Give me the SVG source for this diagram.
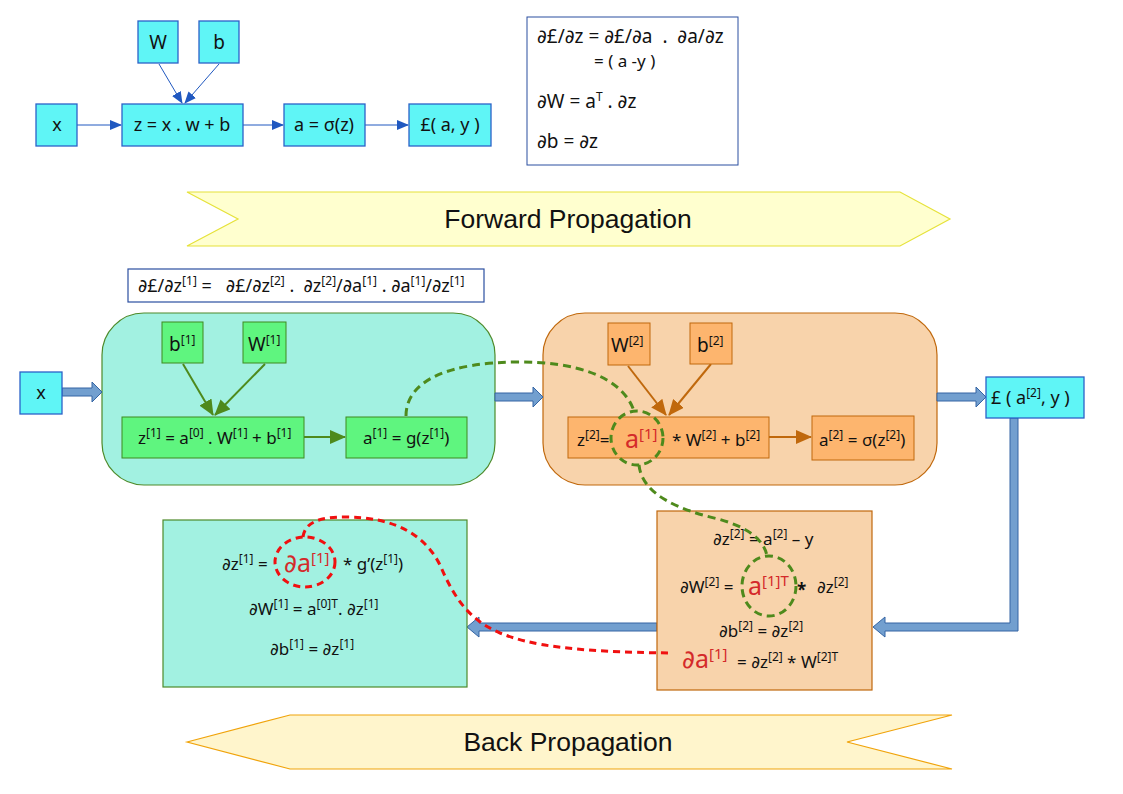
<svg xmlns="http://www.w3.org/2000/svg" width="1123" height="794" viewBox="0 0 1123 794">
<style>
text{font-family:"Noto Sans","DejaVu Sans",sans-serif;font-size:17px;fill:#111}
.c{text-anchor:middle}
.s{font-size:12px;baseline-shift:7px}
.sb{font-size:15px;baseline-shift:9px}
.red{fill:#d42a2a}
.big{font-size:25px}
.cy{fill:#5ff5f6;stroke:#2b62c8;stroke-width:1.3}
.gbox{fill:#5ff57f;stroke:#3f8a1f;stroke-width:1}
.obox{fill:#fdb56e;stroke:#c0680c;stroke-width:1}
.teal{fill:#a2f1e1;stroke:#4e8a2a;stroke-width:1.2}
.peach{fill:#f8d3ab;stroke:#c0680c;stroke-width:1.2}
.bl{stroke:#2058c0;stroke-width:1;fill:none}
.ga{stroke:#4e8a1c;stroke-width:2;fill:none}
.oa{stroke:#c0680c;stroke-width:2;fill:none}
.fat{fill:#729fcf;stroke:#3465a4;stroke-width:1}
.gd{stroke:#4e8a1c;stroke-width:3;fill:none;stroke-dasharray:8 5}
.rd{stroke:#f01010;stroke-width:3;fill:none;stroke-dasharray:7 5}
.ban{font-family:"Liberation Sans",Arial,sans-serif;font-size:26.5px;text-anchor:middle}
.t18{font-size:18px}
.t19{font-size:19px}
</style>
<defs>
<marker id="mb" markerWidth="12" markerHeight="10" refX="11" refY="5" orient="auto" markerUnits="userSpaceOnUse"><path d="M0,0 L12,5 L0,10 Z" fill="#2058c0"/></marker>
<marker id="mg" markerWidth="16" markerHeight="14" refX="15" refY="7" orient="auto" markerUnits="userSpaceOnUse"><path d="M0,0 L16,7 L0,14 Z" fill="#4e8a1c"/></marker>
<marker id="mo" markerWidth="16" markerHeight="14" refX="15" refY="7" orient="auto" markerUnits="userSpaceOnUse"><path d="M0,0 L16,7 L0,14 Z" fill="#c0680c"/></marker>
</defs>

<!-- banners -->
<g id="forward-banner">
<polygon points="187,192 900,192 950,219 900,246 187,246 238,219" fill="#ffffcf" stroke="#e6e23a" stroke-width="1.2"/>
<text class="ban" x="568" y="228">Forward Propagation</text>
</g>
<g id="back-banner">
<polygon points="187,742 290,715 952,715 847,742 952,769 290,769" fill="#fff5cc" stroke="#f0a30a" stroke-width="1.2"/>
<text class="ban" x="568" y="751">Back Propagation</text>
</g>

<!-- containers -->
<g id="layer1">
<rect class="teal" x="102" y="313" width="393" height="172" rx="42"/>
</g>
<g id="layer2">
<rect class="peach" x="543" y="313" width="394" height="172" rx="42"/>
</g>

<!-- connectors -->
<g id="connectors">
<line class="bl" x1="159" y1="64" x2="182" y2="103" marker-end="url(#mb)"/>
<line class="bl" x1="219" y1="64" x2="185" y2="103" marker-end="url(#mb)"/>
<line class="bl" x1="77" y1="125" x2="121" y2="125" marker-end="url(#mb)"/>
<line class="bl" x1="243" y1="125" x2="283" y2="125" marker-end="url(#mb)"/>
<line class="bl" x1="365" y1="125" x2="408" y2="125" marker-end="url(#mb)"/>
<line class="ga" x1="183" y1="364" x2="213" y2="415" marker-end="url(#mg)"/>
<line class="ga" x1="265" y1="364" x2="215" y2="415" marker-end="url(#mg)"/>
<line class="ga" x1="304" y1="437" x2="345" y2="437" marker-end="url(#mg)"/>
<line class="oa" x1="628" y1="366" x2="666" y2="415" marker-end="url(#mo)"/>
<line class="oa" x1="711" y1="364" x2="669" y2="415" marker-end="url(#mo)"/>
<line class="oa" x1="769" y1="437" x2="811" y2="437" marker-end="url(#mo)"/>
<polygon class="fat" points="62,388 92,388 92,382 102,392 92,402 92,396 62,396"/>
<polygon class="fat" points="495,393 533,393 533,387 543,397 533,407 533,401 495,401"/>
<polygon class="fat" points="937,393 976,393 976,387 986,397 976,407 976,401 937,401"/>
<polygon class="fat" points="1010,418 1018,418 1018,631 885,631 885,637 873,627 885,617 885,623 1010,623"/>
<polygon class="fat" points="657,623 479,623 479,617 467,627 479,637 479,631 657,631"/>
</g>

<!-- top row -->
<g id="W"><rect class="cy" x="138" y="21" width="40" height="42"/><text class="c t19" x="158" y="49">W</text></g>
<g id="b"><rect class="cy" x="199" y="21" width="40" height="42"/><text class="c t19" x="219" y="49">b</text></g>
<g id="x"><rect class="cy" x="36" y="104" width="41" height="42"/><text class="c t18" x="57" y="131">x</text></g>
<g id="z"><rect class="cy" x="122" y="104" width="121" height="42"/><text class="c t18" x="182" y="131">z = x . w + b</text></g>
<g id="a"><rect class="cy" x="284" y="104" width="81" height="42"/><text class="c t18" x="324" y="131">a = σ(z)</text></g>
<g id="loss"><rect class="cy" x="409" y="104" width="82" height="42"/><text class="c t18" x="450" y="131">£( a, y )</text></g>

<g id="formula">
<rect x="527" y="17" width="211" height="148" fill="#fff" stroke="#2b4fa0" stroke-width="1"/>
<text class="t19" x="537" y="43" xml:space="preserve">∂£/∂z = ∂£/∂a  .  ∂a/∂z</text>
<text x="594" y="67" xml:space="preserve">= ( a -y )</text>
<text class="t19" x="537" y="108">∂W = a<tspan class="s">T</tspan> . ∂z</text>
<text class="t19" x="537" y="148">∂b = ∂z</text>
</g>

<g id="chain">
<rect x="128" y="269" width="356" height="33" fill="#fff" stroke="#2b4fa0" stroke-width="1.2"/>
<text class="t18" x="138" y="292" xml:space="preserve">∂£/∂z<tspan class="s">[1]</tspan> =   ∂£/∂z<tspan class="s">[2]</tspan> .  ∂z<tspan class="s">[2]</tspan>/∂a<tspan class="s">[1]</tspan> . ∂a<tspan class="s">[1]</tspan>/∂z<tspan class="s">[1]</tspan></text>
</g>

<!-- layer 1 nodes -->
<g id="b1"><rect class="gbox" x="162" y="322" width="41" height="41"/><text class="t19" x="169" y="351">b<tspan class="s">[1]</tspan></text></g>
<g id="W1"><rect class="gbox" x="243" y="322" width="43" height="41"/><text class="t19" x="248" y="351">W<tspan class="s">[1]</tspan></text></g>
<g id="z1"><rect class="gbox" x="122" y="417" width="182" height="41"/><text x="138" y="444">z<tspan class="s">[1]</tspan> = a<tspan class="s">[0]</tspan> . W<tspan class="s">[1]</tspan> + b<tspan class="s">[1]</tspan></text></g>
<g id="a1"><rect class="gbox" x="346" y="417" width="121" height="41"/><text x="363" y="444">a<tspan class="s">[1]</tspan> = g(z<tspan class="s">[1]</tspan>)</text></g>
<g id="xin"><rect class="cy" x="20" y="372" width="42" height="42"/><text class="c t18" x="41" y="399">x</text></g>

<!-- layer 2 nodes -->
<g id="W2"><rect class="obox" x="608" y="323" width="42" height="42"/><text class="t19" x="611" y="352">W<tspan class="s">[2]</tspan></text></g>
<g id="b2"><rect class="obox" x="690" y="323" width="42" height="41"/><text class="t19" x="697" y="352">b<tspan class="s">[2]</tspan></text></g>
<g id="z2"><rect class="obox" x="568" y="417" width="201" height="41"/>
<text x="577" y="446">z<tspan class="s">[2]</tspan>=</text>
<text x="625" y="448" class="red big">a<tspan class="sb">[1]</tspan></text>
<text x="672" y="446">* W<tspan class="s">[2]</tspan> + b<tspan class="s">[2]</tspan></text></g>
<g id="a2"><rect class="obox" x="812" y="416" width="102" height="44"/><text x="819" y="446">a<tspan class="s">[2]</tspan> = σ(z<tspan class="s">[2]</tspan>)</text></g>
<g id="loss2"><rect class="cy" x="986" y="377" width="98" height="41"/><text class="t18" x="991" y="404">£ ( a<tspan class="s">[2]</tspan>, y )</text></g>

<!-- back prop boxes -->
<g id="back1">
<rect class="teal" x="163" y="520" width="304" height="167"/>
<text x="222" y="570">∂z<tspan class="s">[1]</tspan> = </text>
<text x="284" y="572" class="red big">∂a<tspan class="sb">[1]</tspan></text>
<text x="343" y="570">* g’(z<tspan class="s">[1]</tspan>)</text>
<text x="249" y="615">∂W<tspan class="s">[1]</tspan> = a<tspan class="s">[0]T</tspan>. ∂z<tspan class="s">[1]</tspan></text>
<text x="270" y="655">∂b<tspan class="s">[1]</tspan> = ∂z<tspan class="s">[1]</tspan></text>
</g>
<g id="back2">
<rect class="peach" x="657" y="511" width="215" height="179"/>
<text x="713" y="545">∂z<tspan class="s">[2]</tspan> = a<tspan class="s">[2]</tspan> – y</text>
<text x="680" y="593">∂W<tspan class="s">[2]</tspan> = </text>
<text x="748" y="595" class="red big">a<tspan class="sb">[1]T</tspan></text>
<text x="797" y="596" font-size="20" font-weight="bold">*</text>
<text x="817" y="593">∂z<tspan class="s">[2]</tspan></text>
<text x="719" y="637">∂b<tspan class="s">[2]</tspan> = ∂z<tspan class="s">[2]</tspan></text>
<text x="682" y="668" class="red big">∂a<tspan class="sb">[1]</tspan></text>
<text x="737" y="668">= ∂z<tspan class="s">[2]</tspan> * W<tspan class="s">[2]T</tspan></text>
</g>

<!-- dashed highlights -->
<g id="highlights">
<path class="gd" d="M406,416 C406,380 450,362 520,362 C575,362 622,376 634,411"/>
<ellipse class="gd" cx="637" cy="438" rx="26" ry="27"/>
<path class="gd" d="M639,465 C642,495 680,510 718,519 C748,527 764,540 767,556"/>
<ellipse class="gd" cx="769" cy="586" rx="27" ry="30"/>
<ellipse class="rd" cx="305" cy="562" rx="30" ry="25"/>
<path class="rd" d="M303,537 C305,522 320,517 345,517 C395,517 425,535 440,565 C455,600 470,620 500,633 C530,645 570,652 673,653"/>
</g>
</svg>
